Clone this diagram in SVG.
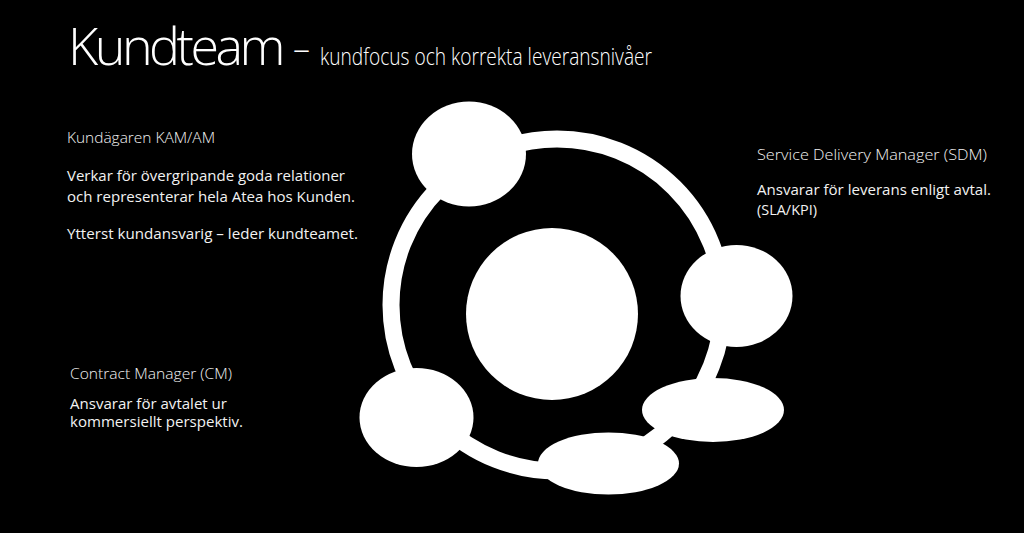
<svg xmlns="http://www.w3.org/2000/svg" width="1024" height="533" viewBox="0 0 1024 533">
<defs>
<style>
.bg{fill:#000000}
.node{fill:#ffffff}
.ring{fill:none;stroke:#ffffff;stroke-width:17}
.t{font-family:"Segoe UI","Open Sans","Noto Sans",sans-serif;fill:#f2f2f2}
.title{font-size:52px;font-weight:300;fill:#ffffff;letter-spacing:-3.5px}
.dash{font-size:34px;font-weight:300;fill:#ffffff}
.sub{font-size:24px;font-weight:300;fill:#ffffff}
.head{font-size:14.5px;font-weight:300}
.body{font-size:14.5px;font-weight:400}
</style>
</defs>
<rect class="bg" x="0" y="0" width="1024" height="533"/>

<g id="title">
<text class="t title" x="68" y="65">Kundteam</text>
<text class="t dash" x="293" y="61">–</text>
<text class="t sub" x="320" y="65" textLength="332" lengthAdjust="spacingAndGlyphs">kundfocus och korrekta leveransnivåer</text>
</g>

<g id="connectors">
<circle class="ring" cx="557" cy="305" r="166"/>
</g>

<g id="node-center"><circle class="node" cx="552" cy="314" r="86"/></g>
<g id="node-kam"><ellipse class="node" cx="469" cy="154" rx="57" ry="52.5"/></g>
<g id="node-sdm"><ellipse class="node" cx="736.5" cy="296" rx="56" ry="51"/></g>
<g id="node-cm"><ellipse class="node" cx="416.5" cy="417.5" rx="57" ry="49.5"/></g>
<g id="node-ellipse-right"><ellipse class="node" cx="713" cy="410" rx="71" ry="32"/></g>
<g id="node-ellipse-bottom"><ellipse class="node" cx="608.5" cy="463.5" rx="70.5" ry="31"/></g>

<g id="label-kam">
<text class="t head" x="67" y="143" textLength="148" lengthAdjust="spacingAndGlyphs">Kundägaren KAM/AM</text>
<text class="t body" x="67" y="181" textLength="278" lengthAdjust="spacingAndGlyphs">Verkar för övergripande goda relationer</text>
<text class="t body" x="67" y="201.5" textLength="288" lengthAdjust="spacingAndGlyphs">och representerar hela Atea hos Kunden.</text>
<text class="t body" x="67" y="239" textLength="291" lengthAdjust="spacingAndGlyphs">Ytterst kundansvarig – leder kundteamet.</text>
</g>

<g id="label-sdm">
<text class="t head" x="757" y="159.5" textLength="230" lengthAdjust="spacingAndGlyphs">Service Delivery Manager (SDM)</text>
<text class="t body" x="757" y="194.5" textLength="234" lengthAdjust="spacingAndGlyphs">Ansvarar för leverans enligt avtal.</text>
<text class="t body" x="757" y="215" textLength="60" lengthAdjust="spacingAndGlyphs">(SLA/KPI)</text>
</g>

<g id="label-cm">
<text class="t head" x="70" y="378.5" textLength="162" lengthAdjust="spacingAndGlyphs">Contract Manager (CM)</text>
<text class="t body" x="70" y="408.5" textLength="157" lengthAdjust="spacingAndGlyphs">Ansvarar för avtalet ur</text>
<text class="t body" x="70" y="427" textLength="173" lengthAdjust="spacingAndGlyphs">kommersiellt perspektiv.</text>
</g>
</svg>
